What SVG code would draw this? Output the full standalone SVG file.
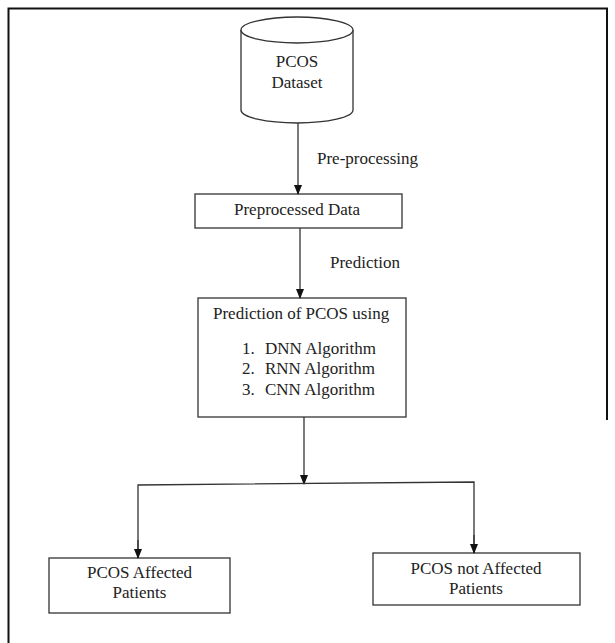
<svg xmlns="http://www.w3.org/2000/svg" width="615" height="643" viewBox="0 0 615 643">
<defs>
<style>
.box{fill:#fff;stroke:#333;stroke-width:1.3}
.ln{fill:none;stroke:#333;stroke-width:1.3}
.t{font-family:"Liberation Serif","Times New Roman",serif;font-size:17px;fill:#222}
.c{text-anchor:middle}
</style>
<marker id="ah" markerWidth="10" markerHeight="10" refX="9" refY="5" orient="auto" markerUnits="userSpaceOnUse" viewBox="0 0 10 10">
<path d="M0,1 L10,5 L0,9 Z" fill="#111"/>
</marker>
</defs>
<rect width="615" height="643" fill="#fff"/>
<path id="frame" d="M8.5,643 V8.5 H607 V420" fill="none" stroke="#111" stroke-width="2"/>
<g id="dataset">
<path class="box" d="M241,30 V110 A56,13 0 0 0 353,110 V30"/>
<ellipse class="box" cx="297" cy="30" rx="56" ry="13"/>
<text class="t c" x="297" y="67">PCOS</text>
<text class="t c" x="297" y="88">Dataset</text>
</g>
<g id="preprocessed">
<rect class="box" x="195" y="194" width="207" height="34"/>
<text class="t c" x="297" y="215">Preprocessed Data</text>
</g>
<g id="prediction">
<rect class="box" x="198" y="298" width="208" height="119"/>
<text class="t" x="213" y="319">Prediction of PCOS using</text>
<text class="t" x="242" y="354">1.</text><text class="t" x="265" y="354">DNN Algorithm</text>
<text class="t" x="242" y="374">2.</text><text class="t" x="265" y="374">RNN Algorithm</text>
<text class="t" x="242" y="395">3.</text><text class="t" x="265" y="395">CNN Algorithm</text>
</g>
<g id="affected">
<rect class="box" x="49" y="558" width="181" height="55"/>
<text class="t c" x="139.5" y="578">PCOS Affected</text>
<text class="t c" x="139.5" y="598">Patients</text>
</g>
<g id="notaffected">
<rect class="box" x="373" y="553" width="207" height="52"/>
<text class="t c" x="476" y="574">PCOS not Affected</text>
<text class="t c" x="476" y="594">Patients</text>
</g>
<g id="connectors">
<line class="ln" x1="298" y1="123" x2="298" y2="194" marker-end="url(#ah)"/>
<line class="ln" x1="300" y1="228" x2="300" y2="298" marker-end="url(#ah)"/>
<line class="ln" x1="304" y1="417" x2="304" y2="484" marker-end="url(#ah)"/>
<polyline class="ln" points="138,558 138,485 474,482 474,553"/>
<line class="ln" x1="138" y1="540" x2="138" y2="558" marker-end="url(#ah)"/>
<line class="ln" x1="474" y1="535" x2="474" y2="553" marker-end="url(#ah)"/>
</g>
<g id="labels">
<text class="t" x="317" y="164">Pre-processing</text>
<text class="t" x="330" y="268">Prediction</text>
</g>
</svg>
